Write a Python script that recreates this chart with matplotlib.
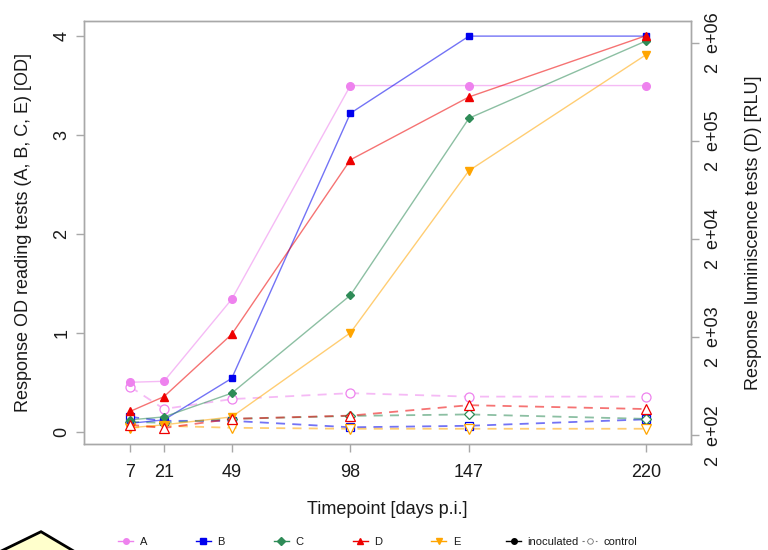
"""
Inoculated vs control response over time: OD readings (A, B, C, E)
and luminescence (D, log axis on the right).
"""
import numpy as np
import matplotlib.pyplot as plt
from matplotlib.lines import Line2D
from matplotlib.patches import Polygon

plt.rcParams['font.family'] = ['Liberation Sans', 'DejaVu Sans']

# Data ----------------------------------------------------

days = [7, 21, 49, 98, 147, 220]

# inoculated (solid) - OD
A_inoc = [0.50, 0.51, 1.34, 3.50, 3.50, 3.50]
B_inoc = [0.085, 0.12, 0.54, 3.22, 4.00, 4.00]
C_inoc = [0.12, 0.15, 0.39, 1.38, 3.17, 3.95]
E_inoc = [0.04, 0.07, 0.15, 1.00, 2.64, 3.81]
# control (dashed) - OD
A_ctrl = [0.455, 0.23, 0.33, 0.39, 0.355, 0.355]
B_ctrl = [0.15, 0.11, 0.11, 0.045, 0.06, 0.125]
C_ctrl = [0.10, 0.09, 0.13, 0.16, 0.175, 0.13]
E_ctrl = [0.04, 0.06, 0.04, 0.03, 0.03, 0.03]

# D - luminescence [RLU]
D_inoc = [350, 495, 2140, 1.28e5, 5.6e5, 2.35e6]
D_ctrl = [256, 237, 294, 317, 405, 370]

rlu_ticks = [2e2, 2e3, 2e4, 2e5, 2e6]
rlu_labels = ['2  e+02', '2  e+03', '2  e+04', '2  e+05', '2  e+06']

# Styles --------------------------------------------------

col = {'A': 'violet', 'B': '#0000ee', 'C': 'seagreen', 'D': '#ee0000', 'E': 'orange'}
mk = {'A': 'o', 'B': 's', 'C': 'D', 'D': '^', 'E': 'v'}
ms = {'A': 5.5, 'B': 5, 'C': 4.5, 'D': 6, 'E': 6}
frame = '#a8a8a8'
txt = '#1a1a1a'

# Plot ====================================================

fig = plt.figure(figsize=(7.68, 5.5), dpi=100)
ax = fig.add_axes([0.1098, 0.1922, 0.7903, 0.7702])
ax2 = ax.twinx()


def draw(a, x, y, c, m, s, dashed):
    ls = (0, (5, 4)) if dashed else '-'
    lw = 1.3 if dashed else 1.0
    a.plot(x, y, ls=ls, lw=lw, c=c, alpha=0.55, zorder=2)
    if dashed:
        a.plot(x, y, ls='none', marker=m, ms=s + 1, mfc='white', mec=c, mew=0.9, zorder=3)
    else:
        a.plot(x, y, ls='none', marker=m, ms=s, mfc=c, mec=c, zorder=4)


for k, yc in (('A', A_ctrl), ('B', B_ctrl), ('C', C_ctrl), ('E', E_ctrl)):
    draw(ax, days, yc, col[k], mk[k], ms[k], True)
draw(ax2, days, D_ctrl, col['D'], mk['D'], ms['D'], True)
for k, yi in (('A', A_inoc), ('B', B_inoc), ('C', C_inoc), ('E', E_inoc)):
    draw(ax, days, yi, col[k], mk[k], ms[k], False)
draw(ax2, days, D_inoc, col['D'], mk['D'], ms['D'], False)

ax.set_xlim(-11.9, 238.8)
ax.set_ylim(-0.127, 4.156)
ax2.set_yscale('log')
ax2.set_ylim(161.8, 3.35e6)

ax.set_xticks(days)
ax.set_yticks([0, 1, 2, 3, 4])
ax2.set_yticks(rlu_ticks)
ax2.set_yticklabels(rlu_labels)
ax2.yaxis.set_minor_locator(plt.NullLocator())

for a in (ax, ax2):
    for sp in a.spines.values():
        sp.set_color(frame)
        sp.set_linewidth(1.0)
ax.tick_params(axis='both', colors=frame, labelcolor=txt, labelsize=13,
               length=6, width=1.0)
ax.tick_params(axis='x', pad=8)
ax.tick_params(axis='y', pad=4)
for lab in ax.get_yticklabels():
    lab.set_rotation(90)
    lab.set_va('center')
ax2.tick_params(axis='y', colors=frame, labelcolor=txt, labelsize=13,
                length=6, width=1.0, pad=4)
for lab in ax2.get_yticklabels():
    lab.set_rotation(90)
    lab.set_va('center')

ax.set_xlabel('Timepoint [days p.i.]', fontsize=13, color=txt)
ax.set_ylabel('Response OD reading tests (A, B, C, E) [OD]', fontsize=13, color=txt)
ax2.set_ylabel('Response luminiscence tests (D) [RLU]', fontsize=13, color=txt,
               rotation=90)
ax.xaxis.set_label_coords(0.4995, -0.134)
ax.yaxis.set_label_coords(-0.0867, 0.5)
ax2.yaxis.set_label_coords(1.0885, 0.5)

# Legends -------------------------------------------------

h1 = [Line2D([], [], c=col[k], lw=1.0, marker=mk[k], ms=4, mfc=col[k], mec=col[k])
      for k in 'ABCDE']
leg1 = fig.legend(h1, list('ABCDE'), ncol=5, frameon=False, fontsize=8,
                  loc='center left', bbox_to_anchor=(118 / 768, 1 - 541.7 / 550),
                  borderpad=0, borderaxespad=0, handlelength=1.35,
                  handletextpad=0.6, columnspacing=4.4)
h2 = [Line2D([], [], c='black', lw=1.0, marker='o', ms=4),
      Line2D([], [], c='#777777', lw=0.8, ls=(0, (2, 2)), marker='o', ms=4,
             mfc='white', mec='#777777', mew=0.6)]
leg2 = fig.legend(h2, ['inoculated', 'control'], ncol=2, frameon=False, fontsize=8,
                  loc='center left', bbox_to_anchor=(506 / 768, 1 - 541.7 / 550),
                  borderpad=0, borderaxespad=0, handlelength=1.35,
                  handletextpad=0.6, columnspacing=0.3)
for t in leg1.get_texts() + leg2.get_texts():
    t.set_color(txt)

# yellow shape in the lower left corner
W, H = 768, 550
shape = [(-9 / W, -6 / H), (41 / W, 18.3 / H), (82 / W, -6 / H)]
fig.patches.append(Polygon(shape, closed=True, transform=fig.transFigure,
                           facecolor='#ffffcc', edgecolor='black', lw=2, zorder=10))

fig.savefig('out.png', dpi=100)
